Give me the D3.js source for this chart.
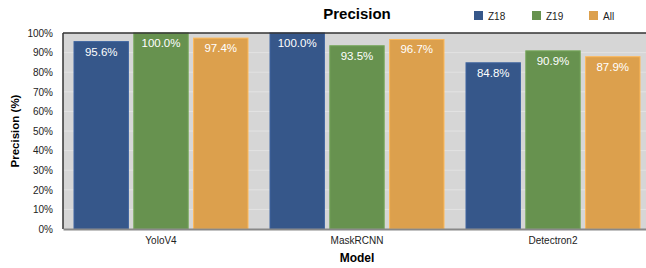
<!DOCTYPE html>
<html lang="en">
<head>
  <meta charset="UTF-8">
  <title>Precision</title>
  <style>
    body { margin: 0; background: #fff; overflow: hidden; }
    svg { display: block; font-family: "Liberation Sans", Arial, sans-serif; }
    .tick text { font-size: 10px; fill: #222; }
    .bar-label { font-size: 11.5px; fill: #fff; text-anchor: middle; }
  </style>
</head>
<body>
  <svg width="646" height="268"></svg>
  <script src="https://d3js.org/d3.v7.min.js"></script>
  <script>
    // data
    const models = ["YoloV4", "MaskRCNN", "Detectron2"];
    const series = ["Z18", "Z19", "All"];
    const z18 = [95.6, 100.0, 84.8];
    const z19 = [100.0, 93.5, 90.9];
    const all = [97.4, 96.7, 87.9];
    const yTicks = [0, 10, 20, 30, 40, 50, 60, 70, 80, 90, 100];
    const colors = ["#36578a", "#67924f", "#dca04d"];

    const values = [z18, z19, all];
    const rows = [];
    models.forEach((m, i) => {
      series.forEach((s, j) => rows.push({ model: m, series: s, value: values[j][i] }));
    });

    const svg = d3.select("svg");
    const plotL = 63, plotR = 651, plotT = 33, plotB = 229;

    const x0 = d3.scaleBand().domain(models).range([plotL, plotR]);
    const x1 = d3.scaleBand().domain(series)
      .range([11, x0.bandwidth() - 11]).paddingInner(0.09);
    const y = d3.scaleLinear().domain([0, 100]).range([plotB, plotT]);
    const color = d3.scaleOrdinal().domain(series).range(colors);

    // plot background
    svg.append("rect")
      .attr("x", plotL).attr("y", plotT)
      .attr("width", plotR - plotL).attr("height", plotB - plotT)
      .attr("fill", "#d6d6d6");

    // grid lines
    svg.append("g").selectAll("line")
      .data(yTicks.slice(1, -1))
      .join("line")
      .attr("x1", plotL).attr("x2", plotR)
      .attr("y1", d => y(d)).attr("y2", d => y(d))
      .attr("stroke", "#e3e3e3").attr("stroke-width", 1);

    // bars
    const bars = svg.append("g").selectAll("g")
      .data(rows)
      .join("g")
      .attr("transform", d => `translate(${x0(d.model) + x1(d.series)},0)`);

    bars.append("rect")
      .attr("y", d => y(d.value))
      .attr("width", x1.bandwidth())
      .attr("height", d => y(0) - y(d.value))
      .attr("fill", d => color(d.series))
      .attr("stroke", d => d3.color(color(d.series)).brighter(0.4))
      .attr("stroke-width", 1);

    bars.append("text")
      .attr("class", "bar-label")
      .attr("x", x1.bandwidth() / 2)
      .attr("y", d => y(d.value) + 14)
      .text(d => d.value.toFixed(1) + "%");

    // frame: dark top and left, gray bottom
    svg.append("line")
      .attr("x1", plotL).attr("x2", plotR).attr("y1", plotT).attr("y2", plotT)
      .attr("stroke", "#333").attr("stroke-width", 1.5);
    svg.append("line")
      .attr("x1", plotL).attr("x2", plotL).attr("y1", plotT).attr("y2", plotB)
      .attr("stroke", "#333").attr("stroke-width", 1.5);

    // y axis
    const yAxis = svg.append("g")
      .attr("transform", `translate(${plotL},0)`)
      .call(d3.axisLeft(y).tickValues(yTicks).tickFormat(d => d + "%").tickSize(0).tickPadding(10));
    yAxis.select(".domain").remove();

    // x axis
    const xAxis = svg.append("g")
      .attr("transform", `translate(0,${plotB})`)
      .call(d3.axisBottom(x0).tickSize(0).tickPadding(8));
    xAxis.select(".domain")
      .attr("stroke", "#888").attr("stroke-width", 2);

    // axis titles
    svg.append("text")
      .attr("x", (plotL + plotR) / 2).attr("y", 262)
      .attr("text-anchor", "middle")
      .attr("font-size", 12).attr("font-weight", "bold")
      .text("Model");

    svg.append("text")
      .attr("transform", `translate(19,${(plotT + plotB) / 2}) rotate(-90)`)
      .attr("text-anchor", "middle")
      .attr("font-size", 11.5).attr("font-weight", "bold")
      .text("Precision (%)");

    // chart title
    svg.append("text")
      .attr("x", (plotL + plotR) / 2).attr("y", 19)
      .attr("text-anchor", "middle")
      .attr("font-size", 15).attr("font-weight", "bold")
      .text("Precision");

    // legend
    const legendX = [474, 532, 589];
    const legend = svg.append("g").selectAll("g")
      .data(series)
      .join("g")
      .attr("transform", (d, i) => `translate(${legendX[i]},11)`);
    legend.append("rect")
      .attr("width", 9).attr("height", 9)
      .attr("fill", d => color(d));
    legend.append("text")
      .attr("x", 14).attr("y", 8.5)
      .attr("font-size", 10).attr("fill", "#222")
      .text(d => d);
  </script>
</body>
</html>
